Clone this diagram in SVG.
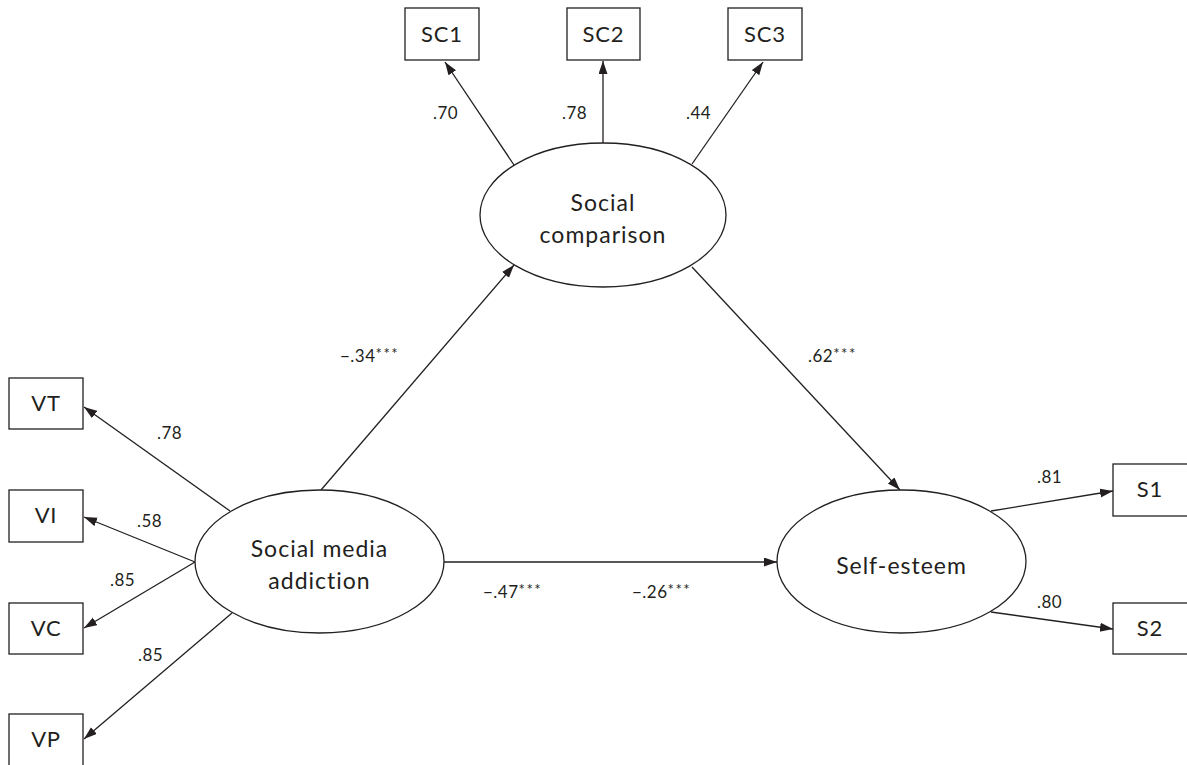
<svg xmlns="http://www.w3.org/2000/svg" width="1187" height="765" viewBox="0 0 1187 765">
<style>
.box{fill:#fff;stroke:#231f20;stroke-width:1.3}
.ell{fill:#fff;stroke:#231f20;stroke-width:1.3}
.edge{stroke:#231f20;stroke-width:1.3;fill:none;marker-end:url(#arr)}
.nt{font-family:Lato,"Open Sans",sans-serif;font-size:23px;fill:#231f20;text-anchor:middle;letter-spacing:1px}
.bt{font-family:Lato,"Open Sans",sans-serif;font-size:22px;fill:#231f20;text-anchor:middle;letter-spacing:0.8px}
.lb{font-family:Lato,"Open Sans",sans-serif;font-size:17px;fill:#231f20;letter-spacing:0.5px}
.st{font-size:15px;letter-spacing:1.5px}
</style>
<defs>
<marker id="arr" markerUnits="userSpaceOnUse" markerWidth="14" markerHeight="10" refX="13" refY="4.5" orient="auto">
<path d="M0,0 L13,4.5 L0,9 z" fill="#231f20"/>
</marker>
</defs>
<rect width="1187" height="765" fill="#fff"/>
<g id="connectors">
<line class="edge" x1="514" y1="165" x2="445" y2="62"/>
<line class="edge" x1="603" y1="143" x2="603" y2="61"/>
<line class="edge" x1="692" y1="164" x2="763" y2="62"/>
<line class="edge" x1="321" y1="490" x2="514" y2="265"/>
<line class="edge" x1="692" y1="267" x2="900" y2="490"/>
<line class="edge" x1="444" y1="562" x2="777" y2="562"/>
<line class="edge" x1="230" y1="511" x2="84" y2="407"/>
<line class="edge" x1="195" y1="562" x2="84" y2="517"/>
<line class="edge" x1="195" y1="562" x2="84" y2="628"/>
<line class="edge" x1="232" y1="613" x2="84" y2="739"/>
<line class="edge" x1="991" y1="511" x2="1113" y2="491"/>
<line class="edge" x1="991" y1="612" x2="1113" y2="629"/>
</g>
<g id="labels">
<text class="lb" x="433" y="119">.70</text>
<text class="lb" x="562" y="119">.78</text>
<text class="lb" x="686" y="119">.44</text>
<text class="lb" x="340" y="362">−.34<tspan class="st" dy="-3">***</tspan></text>
<text class="lb" x="808" y="362">.62<tspan class="st" dy="-3">***</tspan></text>
<text class="lb" x="483" y="598">−.47<tspan class="st" dy="-3">***</tspan></text>
<text class="lb" x="632" y="598">−.26<tspan class="st" dy="-3">***</tspan></text>
<text class="lb" x="157" y="439">.78</text>
<text class="lb" x="137" y="527">.58</text>
<text class="lb" x="110" y="586">.85</text>
<text class="lb" x="138" y="661">.85</text>
<text class="lb" x="1037" y="483">.81</text>
<text class="lb" x="1037" y="608">.80</text>
</g>
<g id="sc1"><rect class="box" x="405" y="8" width="74" height="52"/><text class="bt" x="442" y="42">SC1</text></g>
<g id="sc2"><rect class="box" x="567" y="8" width="73" height="52"/><text class="bt" x="603.5" y="42">SC2</text></g>
<g id="sc3"><rect class="box" x="728" y="8" width="74" height="52"/><text class="bt" x="765" y="42">SC3</text></g>
<g id="vt"><rect class="box" x="9" y="378" width="74" height="51"/><text class="bt" x="46" y="411">VT</text></g>
<g id="vi"><rect class="box" x="9" y="490" width="74" height="52"/><text class="bt" x="46" y="523">VI</text></g>
<g id="vc"><rect class="box" x="9" y="603" width="74" height="51"/><text class="bt" x="46" y="636">VC</text></g>
<g id="vp"><rect class="box" x="9" y="714" width="74" height="52"/><text class="bt" x="46" y="747">VP</text></g>
<g id="s1"><rect class="box" x="1113" y="464" width="76" height="52"/><text class="bt" x="1150" y="497">S1</text></g>
<g id="s2"><rect class="box" x="1113" y="603" width="76" height="51"/><text class="bt" x="1150" y="636">S2</text></g>
<g id="social-comparison"><ellipse class="ell" cx="603" cy="215" rx="123" ry="72"/><text class="nt" x="603" y="211">Social</text><text class="nt" x="603" y="243">comparison</text></g>
<g id="social-media-addiction"><ellipse class="ell" cx="319.5" cy="561.5" rx="124.5" ry="71.5"/><text class="nt" x="319.5" y="557">Social media</text><text class="nt" x="319.5" y="589">addiction</text></g>
<g id="self-esteem"><ellipse class="ell" cx="901.5" cy="561.5" rx="124.5" ry="71.5"/><text class="nt" x="901.5" y="574">Self-esteem</text></g>
</svg>
